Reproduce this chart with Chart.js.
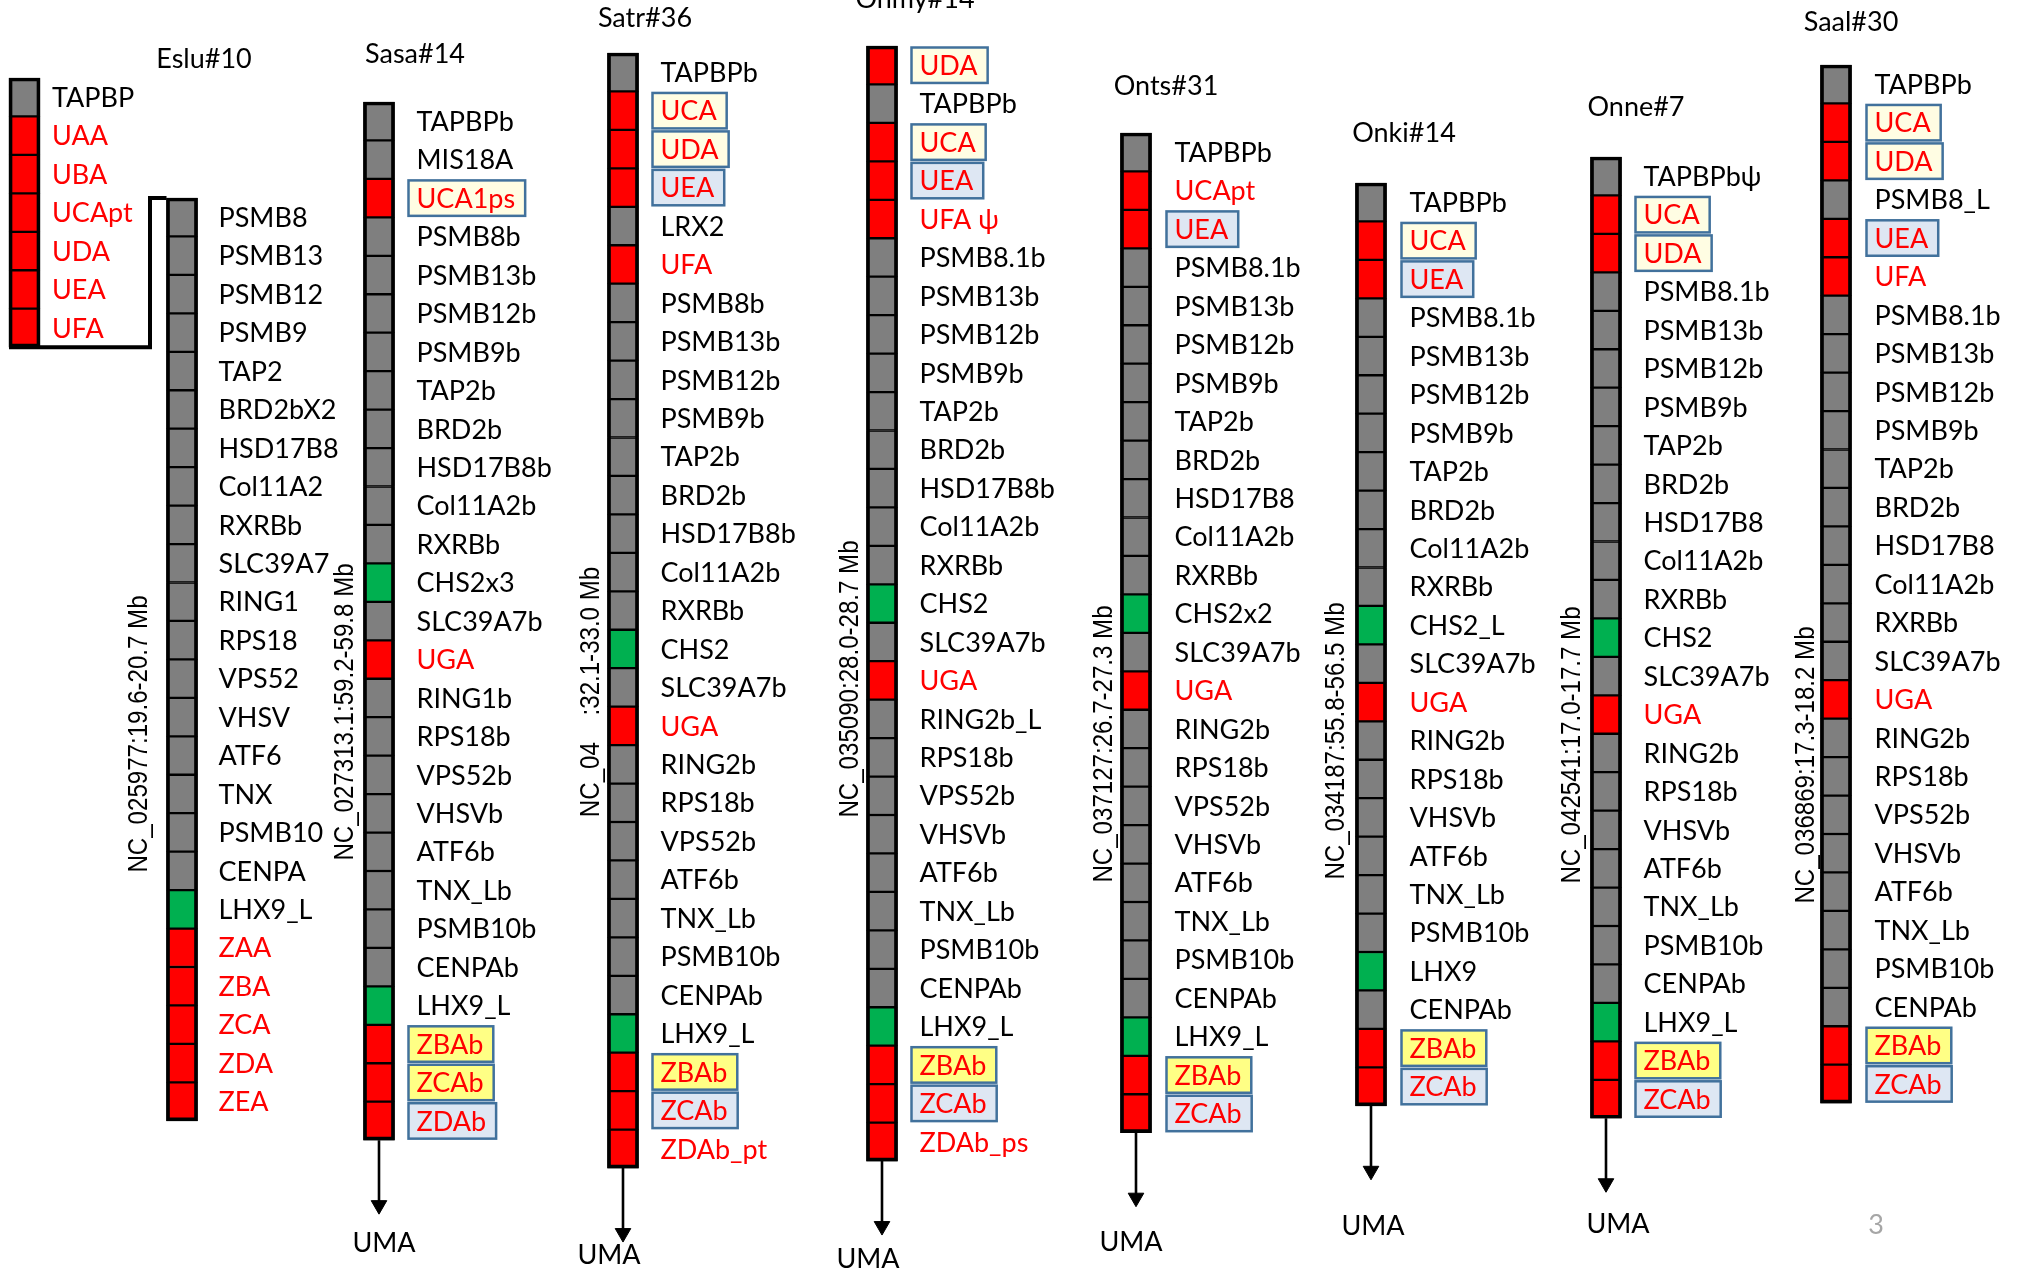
<!DOCTYPE html>
<html>
<head>
<meta charset="utf-8">
<script src="https://cdn.jsdelivr.net/npm/chart.js@4.4.1/dist/chart.umd.min.js"></script>
<style>
  html, body { margin: 0; padding: 0; background: #fff; }
  #wrap { width: 2020px; height: 1272px; }
</style>
</head>
<body>
<div id="wrap"><canvas id="chart" width="2020" height="1272"></canvas></div>
<script>
// Gene order per genomic region. Kind codes: g = grey gene, r = red gene, n = green gene;
// a second letter marks a boxed label: c = cream box, y = yellow box, b = blue box.
const SPECIES = ["Eslu#10", "Sasa#14", "Satr#36", "Onmy#14", "Onts#31", "Onki#14", "Onne#7", "Saal#30"];
const REGIONS = [
  "NC_025977:19.6-20.7 Mb", "NC_027313.1:59.2-59.8 Mb", "NC_04    :32.1-33.0 Mb", "NC_035090:28.0-28.7 Mb",
  "NC_037127:26.7-27.3 Mb", "NC_034187:55.8-56.5 Mb", "NC_042541:17.0-17.7 Mb", "NC_036869:17.3-18.2 Mb"
];

const ESLU_A_GENES = ["TAPBP", "UAA", "UBA", "UCApt", "UDA", "UEA", "UFA"];
const ESLU_A_KINDS = ["g", "r", "r", "r", "r", "r", "r"];

const ESLU_B_GENES = ["PSMB8", "PSMB13", "PSMB12", "PSMB9", "TAP2", "BRD2bX2", "HSD17B8", "Col11A2", "RXRBb",
  "SLC39A7", "RING1", "RPS18", "VPS52", "VHSV", "ATF6", "TNX", "PSMB10", "CENPA", "LHX9_L",
  "ZAA", "ZBA", "ZCA", "ZDA", "ZEA"];
const ESLU_B_KINDS = ["g", "g", "g", "g", "g", "g", "g", "g", "g", "g", "g", "g", "g", "g", "g", "g", "g", "g", "n",
  "r", "r", "r", "r", "r"];

const SASA_GENES = ["TAPBPb", "MIS18A", "UCA1ps", "PSMB8b", "PSMB13b", "PSMB12b", "PSMB9b", "TAP2b", "BRD2b",
  "HSD17B8b", "Col11A2b", "RXRBb", "CHS2x3", "SLC39A7b", "UGA", "RING1b", "RPS18b", "VPS52b", "VHSVb",
  "ATF6b", "TNX_Lb", "PSMB10b", "CENPAb", "LHX9_L", "ZBAb", "ZCAb", "ZDAb"];
const SASA_KINDS = ["g", "g", "rc", "g", "g", "g", "g", "g", "g", "g", "g", "g", "n", "g", "r", "g", "g", "g", "g",
  "g", "g", "g", "g", "n", "ry", "ry", "rb"];

const SATR_GENES = ["TAPBPb", "UCA", "UDA", "UEA", "LRX2", "UFA", "PSMB8b", "PSMB13b", "PSMB12b", "PSMB9b",
  "TAP2b", "BRD2b", "HSD17B8b", "Col11A2b", "RXRBb", "CHS2", "SLC39A7b", "UGA", "RING2b", "RPS18b",
  "VPS52b", "ATF6b", "TNX_Lb", "PSMB10b", "CENPAb", "LHX9_L", "ZBAb", "ZCAb", "ZDAb_pt"];
const SATR_KINDS = ["g", "rc", "rc", "rb", "g", "r", "g", "g", "g", "g", "g", "g", "g", "g", "g", "n", "g", "r",
  "g", "g", "g", "g", "g", "g", "g", "n", "ry", "rb", "r"];

const ONMY_GENES = ["UDA", "TAPBPb", "UCA", "UEA", "UFA \u03c8", "PSMB8.1b", "PSMB13b", "PSMB12b", "PSMB9b",
  "TAP2b", "BRD2b", "HSD17B8b", "Col11A2b", "RXRBb", "CHS2", "SLC39A7b", "UGA", "RING2b_L", "RPS18b",
  "VPS52b", "VHSVb", "ATF6b", "TNX_Lb", "PSMB10b", "CENPAb", "LHX9_L", "ZBAb", "ZCAb", "ZDAb_ps"];
const ONMY_KINDS = ["rc", "g", "rc", "rb", "r", "g", "g", "g", "g", "g", "g", "g", "g", "g", "n", "g", "r", "g",
  "g", "g", "g", "g", "g", "g", "g", "n", "ry", "rb", "r"];

const ONTS_GENES = ["TAPBPb", "UCApt", "UEA", "PSMB8.1b", "PSMB13b", "PSMB12b", "PSMB9b", "TAP2b", "BRD2b",
  "HSD17B8", "Col11A2b", "RXRBb", "CHS2x2", "SLC39A7b", "UGA", "RING2b", "RPS18b", "VPS52b", "VHSVb",
  "ATF6b", "TNX_Lb", "PSMB10b", "CENPAb", "LHX9_L", "ZBAb", "ZCAb"];
const ONTS_KINDS = ["g", "r", "rb", "g", "g", "g", "g", "g", "g", "g", "g", "g", "n", "g", "r", "g", "g", "g", "g",
  "g", "g", "g", "g", "n", "ry", "rb"];

const ONKI_GENES = ["TAPBPb", "UCA", "UEA", "PSMB8.1b", "PSMB13b", "PSMB12b", "PSMB9b", "TAP2b", "BRD2b",
  "Col11A2b", "RXRBb", "CHS2_L", "SLC39A7b", "UGA", "RING2b", "RPS18b", "VHSVb", "ATF6b", "TNX_Lb",
  "PSMB10b", "LHX9", "CENPAb", "ZBAb", "ZCAb"];
const ONKI_KINDS = ["g", "rc", "rb", "g", "g", "g", "g", "g", "g", "g", "g", "n", "g", "r", "g", "g", "g", "g", "g",
  "g", "n", "g", "ry", "rb"];

const ONNE_GENES = ["TAPBPb\u03c8", "UCA", "UDA", "PSMB8.1b", "PSMB13b", "PSMB12b", "PSMB9b", "TAP2b", "BRD2b",
  "HSD17B8", "Col11A2b", "RXRBb", "CHS2", "SLC39A7b", "UGA", "RING2b", "RPS18b", "VHSVb", "ATF6b",
  "TNX_Lb", "PSMB10b", "CENPAb", "LHX9_L", "ZBAb", "ZCAb"];
const ONNE_KINDS = ["g", "rc", "rc", "g", "g", "g", "g", "g", "g", "g", "g", "g", "n", "g", "r", "g", "g", "g", "g",
  "g", "g", "g", "n", "ry", "rb"];

const SAAL_GENES = ["TAPBPb", "UCA", "UDA", "PSMB8_L", "UEA", "UFA", "PSMB8.1b", "PSMB13b", "PSMB12b", "PSMB9b",
  "TAP2b", "BRD2b", "HSD17B8", "Col11A2b", "RXRBb", "SLC39A7b", "UGA", "RING2b", "RPS18b", "VPS52b",
  "VHSVb", "ATF6b", "TNX_Lb", "PSMB10b", "CENPAb", "ZBAb", "ZCAb"];
const SAAL_KINDS = ["g", "rc", "rc", "g", "rb", "r", "g", "g", "g", "g", "g", "g", "g", "g", "g", "g", "r", "g", "g",
  "g", "g", "g", "g", "g", "g", "ry", "rb"];

const BLOCKS = [
  { genes: ESLU_A_GENES, kinds: ESLU_A_KINDS },
  { genes: ESLU_B_GENES, kinds: ESLU_B_KINDS },
  { genes: SASA_GENES, kinds: SASA_KINDS },
  { genes: SATR_GENES, kinds: SATR_KINDS },
  { genes: ONMY_GENES, kinds: ONMY_KINDS },
  { genes: ONTS_GENES, kinds: ONTS_KINDS },
  { genes: ONKI_GENES, kinds: ONKI_KINDS },
  { genes: ONNE_GENES, kinds: ONNE_KINDS },
  { genes: SAAL_GENES, kinds: SAAL_KINDS }
];

// ---- layout (pixel units of the 2020 x 1272 axes) ----
const ROW = 38.45;
const COL_W = 31;
const ARROW_LEN = 74;
const HEAD_R = 9;
const LAYOUT = [
  { cx: 24.5, top: 78, gap: 12 },
  { cx: 182, top: 198, gap: 21 },
  { cx: 379, top: 102, gap: 22, uma: [384, 1243] },
  { cx: 623, top: 53, gap: 22, uma: [609, 1255] },
  { cx: 882, top: 46, gap: 22, uma: [868, 1259] },
  { cx: 1136, top: 133, gap: 23, uma: [1131, 1242] },
  { cx: 1371, top: 183, gap: 23, uma: [1373, 1226] },
  { cx: 1606, top: 157, gap: 22, uma: [1618, 1224] },
  { cx: 1836, top: 65, gap: 23 }
];
const TITLE_POS = [[204, 59], [415, 54], [645, 18], [915, -1], [1166, 86], [1404, 133], [1636, 107], [1851, 22]];
const REGION_POS = [[139, 734], [345, 712], [591, 692], [850, 679], [1104, 744], [1336, 741], [1572, 745], [1806, 765]];
const JOIN_X = 150;

const FILL = { g: "#7F7F7F", r: "#FF0000", n: "#00B050" };
const BOX_FILL = { c: "#FFFDE3", y: "#FFFF85", b: "#DEE7F3" };
const BOX_EDGE = "#41719C";
const LABEL_FONT = "27px Lato";

// ---- datasets ----
const cellData = [], cellColors = [], frameData = [];
BLOCKS.forEach((b, bi) => {
  const L = LAYOUT[bi];
  b.genes.forEach((g, i) => {
    cellData.push({ x: L.cx, y: [L.top + i * ROW, L.top + (i + 1) * ROW] });
    cellColors.push(FILL[b.kinds[i][0]]);
  });
  frameData.push({ x: L.cx, y: [L.top, L.top + b.genes.length * ROW] });
});

const datasets = [
  {
    type: "bar", data: cellData, backgroundColor: cellColors, borderColor: "#000",
    borderWidth: 1.5, borderSkipped: false, barThickness: COL_W, grouped: false, order: 3
  },
  {
    type: "bar", data: frameData, backgroundColor: "rgba(0,0,0,0)", borderColor: "#000",
    borderWidth: 3, borderSkipped: false, barThickness: COL_W, grouped: false, order: 2
  }
];

// bent connector from the Eslu upper block down to its main block
const a = LAYOUT[0], bMain = LAYOUT[1];
const aBottom = a.top + ESLU_A_GENES.length * ROW;
datasets.push({
  type: "line",
  data: [
    { x: a.cx - COL_W / 2, y: aBottom }, { x: JOIN_X, y: aBottom },
    { x: JOIN_X, y: bMain.top }, { x: bMain.cx - COL_W / 2, y: bMain.top }
  ],
  borderColor: "#000", borderWidth: 4, pointRadius: 0, borderJoinStyle: "miter", order: 1
});

// arrows toward UMA
BLOCKS.forEach((b, bi) => {
  const L = LAYOUT[bi];
  if (!L.uma) return;
  const bottom = L.top + b.genes.length * ROW;
  datasets.push({
    type: "line",
    data: [{ x: L.cx, y: bottom }, { x: L.cx, y: bottom + ARROW_LEN - HEAD_R }],
    borderColor: "#000", borderWidth: 2.6,
    pointRadius: [0, HEAD_R], pointStyle: "triangle", rotation: 180,
    pointBackgroundColor: "#000", pointBorderColor: "#000", pointBorderWidth: 1, order: 1
  });
});

// ---- text layer ----
const textPlugin = {
  id: "textLayer",
  afterDatasetsDraw(chart) {
    const { ctx, scales: { x, y } } = chart;
    ctx.save();
    ctx.textBaseline = "middle";
    ctx.font = LABEL_FONT;

    BLOCKS.forEach((b, bi) => {
      const L = LAYOUT[bi];
      const tx = x.getPixelForValue(L.cx + COL_W / 2 + L.gap);
      b.genes.forEach((g, i) => {
        const k = b.kinds[i];
        const yc = y.getPixelForValue(L.top + (i + 0.5) * ROW);
        if (k.length > 1) {
          const w = ctx.measureText(g).width;
          const bh = ROW - 3;
          ctx.fillStyle = BOX_FILL[k[1]];
          ctx.fillRect(tx - 8, yc - bh / 2, w + 18, bh);
          ctx.strokeStyle = BOX_EDGE;
          ctx.lineWidth = 2.5;
          ctx.strokeRect(tx - 8, yc - bh / 2, w + 18, bh);
        }
        ctx.fillStyle = k[0] === "r" ? "#FF0000" : "#000";
        ctx.textAlign = "left";
        ctx.fillText(g, tx, yc + 1);
      });
      if (L.uma) {
        ctx.fillStyle = "#000";
        ctx.textAlign = "center";
        ctx.fillText("UMA", x.getPixelForValue(L.uma[0]), y.getPixelForValue(L.uma[1]));
      }
    });

    SPECIES.forEach((s, si) => {
      ctx.fillStyle = "#000";
      ctx.textAlign = "center";
      ctx.font = LABEL_FONT;
      ctx.fillText(s, x.getPixelForValue(TITLE_POS[si][0]), y.getPixelForValue(TITLE_POS[si][1]));

      ctx.save();
      ctx.translate(x.getPixelForValue(REGION_POS[si][0]), y.getPixelForValue(REGION_POS[si][1]));
      ctx.rotate(-Math.PI / 2);
      ctx.scale(0.86, 1);
      ctx.font = "28px 'Liberation Sans'";
      ctx.fillText(REGIONS[si], 0, 0);
      ctx.restore();
    });

    ctx.fillStyle = "#A6A6A6";
    ctx.font = LABEL_FONT;
    ctx.textAlign = "center";
    ctx.fillText("3", x.getPixelForValue(1876), y.getPixelForValue(1225));
    ctx.restore();
  }
};

new Chart(document.getElementById("chart").getContext("2d"), {
  type: "bar",
  data: { datasets },
  options: {
    responsive: false,
    animation: false,
    devicePixelRatio: 1,
    layout: { padding: 0, autoPadding: false },
    scales: {
      x: { type: "linear", min: 0, max: 2020, offset: false, display: false },
      y: { type: "linear", min: 0, max: 1272, reverse: true, display: false }
    },
    plugins: { legend: { display: false }, tooltip: { enabled: false } }
  },
  plugins: [textPlugin]
});
</script>
</body>
</html>
